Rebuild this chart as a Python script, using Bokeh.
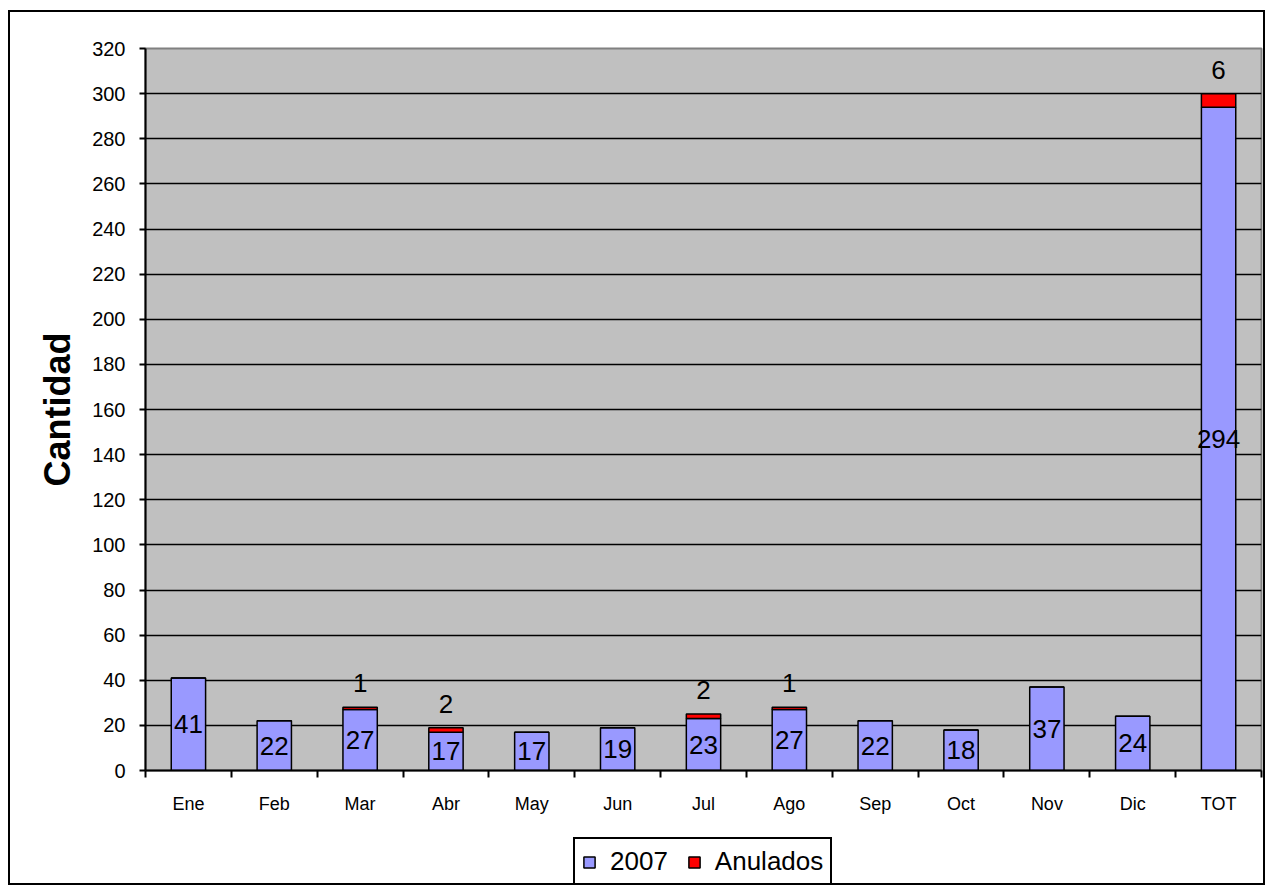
from bokeh.plotting import figure
from bokeh.layouts import column
from bokeh.models import ColumnDataSource, FixedTicker, Legend, LegendItem, Range1d
from bokeh.embed import file_html
from bokeh.resources import INLINE
from bokeh.core.properties import value

categories = ["Ene", "Feb", "Mar", "Abr", "May", "Jun", "Jul", "Ago", "Sep", "Oct", "Nov", "Dic", "TOT"]
values_2007 = [41, 22, 27, 17, 17, 19, 23, 27, 22, 18, 37, 24, 294]
anulados = [0, 0, 1, 2, 0, 0, 2, 1, 0, 0, 0, 0, 6]
series_names = ["2007", "Anulados"]
series_colors = ["#9999FF", "#FF0000"]
y_ticks = list(range(0, 321, 20))

FONT = "Liberation Sans"
n = len(categories)
xs = list(range(1, n + 1))

src = ColumnDataSource(dict(
    x=xs,
    v2007=values_2007,
    anul=anulados,
    mid=[v / 2 for v in values_2007],
    lab=[str(v) for v in values_2007],
))

ax = [x for x, a in zip(xs, anulados) if a > 0]
ay = [v + a for v, a in zip(values_2007, anulados) if a > 0]
al = [str(a) for a in anulados if a > 0]
src_a = ColumnDataSource(dict(x=ax, y=ay, lab=al))

W = 1253
p = figure(width=W, height=823, output_backend="svg", toolbar_location=None,
           x_range=(0.5, n + 0.5), y_range=(0, 320),
           min_border_left=135, min_border_top=36, min_border_right=2, min_border_bottom=65)

p.background_fill_color = "#C0C0C0"
p.border_fill_color = "white"
p.outline_line_color = "#808080"
p.outline_line_width = 2

p.vbar_stack(["v2007", "anul"], x="x", width=0.4, source=src,
             fill_color=series_colors, line_color="black", line_width=1.5)

p.text(x="x", y="mid", text="lab", source=src, text_align="center", text_baseline="middle",
       text_font=value(FONT), text_font_size="26px", text_color="black")
p.text(x="x", y="y", text="lab", source=src_a, text_align="center", text_baseline="middle",
       y_offset=-24, text_font=value(FONT), text_font_size="26px", text_color="black")

# y axis
p.yaxis.ticker = FixedTicker(ticks=y_ticks)
p.yaxis.major_tick_out = 6
p.yaxis.major_tick_in = 0
p.yaxis.minor_tick_out = 0
p.yaxis.minor_tick_in = 0
p.yaxis.axis_line_width = 2
p.yaxis.major_tick_line_width = 2
p.yaxis.major_label_text_font = FONT
p.yaxis.major_label_text_font_size = "20px"
p.yaxis.major_label_text_color = "black"
p.yaxis.major_label_standoff = 14
p.yaxis.axis_label = "Cantidad"
p.yaxis.axis_label_text_font = FONT
p.yaxis.axis_label_text_font_size = "36px"
p.yaxis.axis_label_text_font_style = "bold"
p.yaxis.axis_label_text_color = "black"
p.yaxis.axis_label_standoff = 11

# x axis: labels at category centres, tick marks at category boundaries
p.xaxis.ticker = FixedTicker(ticks=xs, minor_ticks=[x - 0.5 for x in xs] + [n + 0.5])
p.xaxis.major_label_overrides = {x: c for x, c in zip(xs, categories)}
p.xaxis.major_tick_out = 0
p.xaxis.major_tick_in = 0
p.xaxis.minor_tick_out = 7
p.xaxis.minor_tick_in = 0
p.xaxis.minor_tick_line_width = 2
p.xaxis.axis_line_width = 2
p.xaxis.major_label_text_font = FONT
p.xaxis.major_label_text_font_size = "18px"
p.xaxis.major_label_text_color = "black"
p.xaxis.major_label_standoff = 16

p.xgrid.visible = False
p.ygrid.ticker = FixedTicker(ticks=y_ticks[:-1])
p.ygrid.grid_line_color = "black"
p.ygrid.grid_line_width = 1.5

# legend strip below the chart; its renderers are hidden and serve only as legend swatches
p2 = figure(width=W, height=48, output_backend="svg", toolbar_location=None,
            x_axis_type=None, y_axis_type=None,
            x_range=(0.5, n + 0.5), y_range=Range1d(0, 320),
            min_border_left=0, min_border_right=0, min_border_top=0, min_border_bottom=0)
p2.outline_line_color = None
p2.grid.visible = False
p2.background_fill_color = "white"
p2.border_fill_color = "white"
proxies = p2.vbar_stack(["v2007", "anul"], x="x", width=0.4, source=src,
                        fill_color=series_colors, line_color="black", line_width=1.5)
for r in proxies:
    r.visible = False

legend = Legend(items=[LegendItem(label=s, renderers=[r]) for s, r in zip(series_names, proxies)],
                orientation="horizontal", location=(428, -3))
legend.label_text_font = FONT
legend.label_text_font_size = "26px"
legend.label_text_color = "black"
legend.glyph_width = 14
legend.glyph_height = 14
legend.label_standoff = 14
legend.spacing = 19
legend.padding = 7
legend.margin = 0
legend.border_line_color = "black"
legend.border_line_width = 2
legend.border_line_alpha = 1
legend.background_fill_color = "white"
legend.background_fill_alpha = 1
legend.inactive_fill_alpha = 0
p2.add_layout(legend, "center")

layout = column(p, p2, spacing=0)
layout.styles = {"border": "2px solid black", "margin-left": "8px", "margin-top": "10px"}

open("out.html", "w").write(file_html(layout, INLINE))
